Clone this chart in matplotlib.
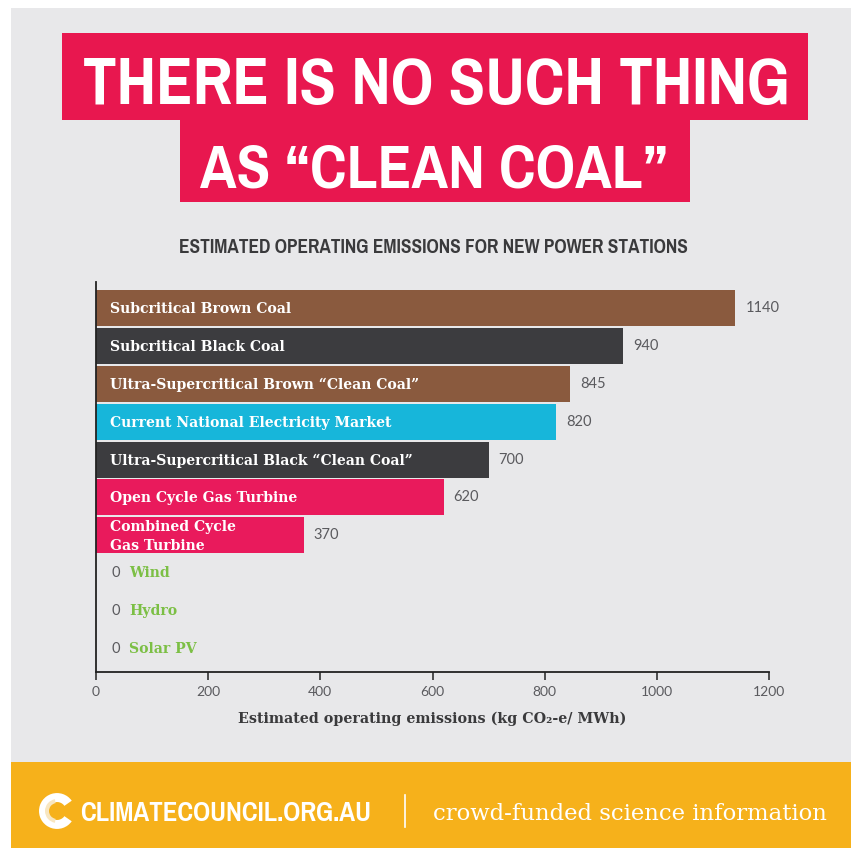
import matplotlib
matplotlib.use('Agg')
import matplotlib.pyplot as plt
from matplotlib import font_manager
from matplotlib.font_manager import FontProperties
from matplotlib.patches import Rectangle, Wedge

# emissions per power station type, kg CO2-e / MWh
stations = ['Subcritical Brown Coal', 'Subcritical Black Coal',
            'Ultra-Supercritical Brown \u201cClean Coal\u201d',
            'Current National Electricity Market',
            'Ultra-Supercritical Black \u201cClean Coal\u201d',
            'Open Cycle Gas Turbine', 'Combined Cycle\nGas Turbine',
            'Wind', 'Hydro', 'Solar PV']
emissions = [1140, 940, 845, 820, 700, 620, 370, 0, 0, 0]
x_ticks = [0, 200, 400, 600, 800, 1000, 1200]

BROWN, BLACK, CYAN, PINK = '#8a5a3e', '#3c3c3f', '#17b6da', '#e91a5c'
bar_colours = [BROWN, BLACK, BROWN, CYAN, BLACK, PINK, PINK, None, None, None]
GREEN = '#7cbf45'
BG = '#e8e8ea'
RED = '#e8174f'
YELLOW = '#f6b11b'
GREY_TXT = '#5a5a5e'

W, H = 851, 848
fig = plt.figure(figsize=(W / 100, H / 100), dpi=100)
fig.patch.set_facecolor('white')


def fx(x):
    return x / W


def fy(y):
    return 1 - y / H


def condensed_bold():
    # narrowest bold face available wins
    prefs = ['sansnarrow-bold', 'narrow-bold', 'narrow bold', 'condensed-bold',
             'condensedbold', 'condensed bold', 'condensed']
    found = []
    for f in font_manager.fontManager.ttflist:
        tag = (f.fname.split('/')[-1] + ' ' + f.name).lower()
        if 'italic' in tag or 'oblique' in tag:
            continue
        if 'bold' not in tag and 'condensed' not in tag:
            continue
        for rank, p in enumerate(prefs):
            if p in tag:
                found.append((rank, f.fname))
                break
    if found:
        found.sort()
        return FontProperties(fname=found[0][1])
    return FontProperties(family='Roboto', weight='bold')


COND = condensed_bold()


def fit_width(t, width_px):
    r = fig.canvas.get_renderer()
    bb = t.get_window_extent(r)
    t.set_fontsize(t.get_fontsize() * width_px / bb.width)


def box(x0, y0, x1, y1, colour, z=-2):
    fig.patches.append(Rectangle((fx(x0), fy(y1)), fx(x1) - fx(x0), fy(y0) - fy(y1),
                                 transform=fig.transFigure, facecolor=colour,
                                 edgecolor='none', zorder=z))


# panels
box(11, 8, W, 762, BG)
box(11, 762, W, H, YELLOW)

# headline
box(62, 33, 808, 120, RED, -1)
box(180, 119, 690, 202, RED, -1)
t1 = fig.text(fx(436), fy(104), 'THERE IS NO SUCH THING', color='white',
              fontproperties=COND, fontsize=50, ha='center', va='baseline', zorder=2)
t2 = fig.text(fx(434), fy(188), 'AS \u201cCLEAN COAL\u201d', color='white',
              fontproperties=COND, fontsize=50, ha='center', va='baseline', zorder=2)
fit_width(t1, 708)
fit_width(t2, 468)

sub = fig.text(fx(433), fy(253), 'ESTIMATED OPERATING EMISSIONS FOR NEW POWER STATIONS',
               color='#3a3a3c', fontproperties=COND, fontsize=12, ha='center', va='baseline')
fit_width(sub, 510)

# chart
ax = fig.add_axes([fx(96), fy(672), fx(769) - fx(96), fy(282) - fy(672)])
ax.set_facecolor('none')
ax.set_zorder(3)
step = (649 - 308) / 9
ax.set_ylim(9 + (672 - 649) / step, -(308 - 282) / step)
ax.set_xlim(0, 1200)

slab = dict(family='DejaVu Serif', weight='bold', fontsize=10.1)
plain = dict(family='Lato', fontsize=10.5, color=GREY_TXT)

for i, (name, val, col) in enumerate(zip(stations, emissions, bar_colours)):
    if val > 0:
        ax.barh(i, val, height=36 / step, color=col, edgecolor='none')
        ax.annotate(name, (0, i), xytext=(14, -1), textcoords='offset pixels',
                    color='white', va='center', ha='left', linespacing=1.45, **slab)
        ax.annotate(str(val), (val, i), xytext=(10, 0), textcoords='offset pixels',
                    va='center', ha='left', **plain)
    else:
        ax.annotate(str(val), (val, i), xytext=(15, 0), textcoords='offset pixels',
                    va='center', ha='left', **plain)
        ax.annotate(name, (val, i), xytext=(33, 0), textcoords='offset pixels',
                    color=GREEN, va='center', ha='left', **slab)

for s in ('top', 'right'):
    ax.spines[s].set_visible(False)
for s in ('left', 'bottom'):
    ax.spines[s].set_color('#222222')
    ax.spines[s].set_linewidth(1.3)
ax.set_yticks([])
ax.set_xticks(x_ticks)
ax.set_xticklabels([str(v) for v in x_ticks], family='Lato', fontsize=10, color=GREY_TXT)
ax.tick_params(axis='x', direction='out', length=6, width=1.1, color='#222222', pad=4)
ax.set_xlabel('Estimated operating emissions (kg CO\u2082-e/ MWh)', family='DejaVu Serif',
              fontweight='bold', fontsize=10.3, color='#3a3a3c', labelpad=10)

# footer
logo_c = (57, 811)
fig.patches.append(Wedge((fx(logo_c[0]), fy(logo_c[1])), 18 / W, 35, 325, width=9 / W,
                         transform=fig.transFigure, facecolor='white', edgecolor='none',
                         zorder=3))
fig.patches.append(Wedge((fx(logo_c[0]), fy(logo_c[1])), 12 / W, 100, 260, width=4 / W,
                         transform=fig.transFigure, facecolor='#f8e6c0', edgecolor='none',
                         zorder=4))
brand = fig.text(fx(80), fy(821), 'CLIMATECOUNCIL.ORG.AU', color='white', fontproperties=COND,
                 fontsize=18, ha='left', va='baseline')
fit_width(brand, 290)
fig.lines.append(plt.Line2D([fx(405), fx(405)], [fy(795), fy(827)], transform=fig.transFigure,
                            color='white', lw=1.2))
tag = fig.text(fx(433), fy(820), 'crowd-funded science information', color='white',
               family='DejaVu Serif', fontsize=15, ha='left', va='baseline')
fit_width(tag, 395)

fig.savefig('out.png', dpi=100, facecolor=fig.get_facecolor())
